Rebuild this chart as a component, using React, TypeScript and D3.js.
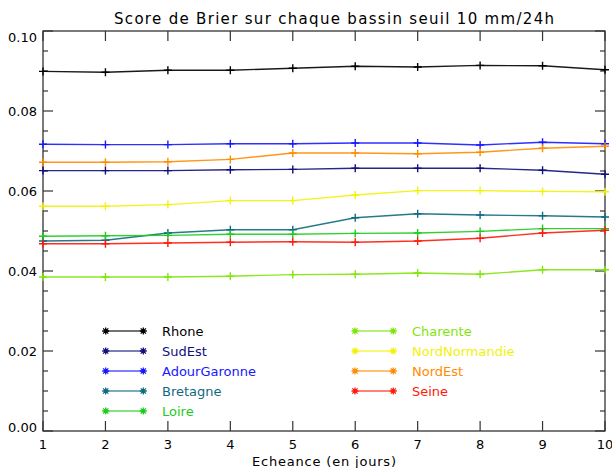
import React, { useEffect, useRef } from 'react';
import * as d3 from 'd3';

const days = [1, 2, 3, 4, 5, 6, 7, 8, 9, 10];

const basins = ['Rhone', 'SudEst', 'AdourGaronne', 'Bretagne', 'Loire', 'Charente', 'NordNormandie', 'NordEst', 'Seine'];
const colors = ['#000000', '#10107a', '#1818ff', '#0f6a80', '#1ccc1c', '#7fe60a', '#f2f20a', '#ff8c00', '#ff1a0a'];

const rhone = [0.0899, 0.0897, 0.0902, 0.0902, 0.0907, 0.0912, 0.0910, 0.0914, 0.0913, 0.0903];
const sudEst = [0.0651, 0.0651, 0.0651, 0.0653, 0.0654, 0.0657, 0.0657, 0.0657, 0.0652, 0.0642];
const adourGaronne = [0.0717, 0.0716, 0.0716, 0.0718, 0.0718, 0.0720, 0.0720, 0.0715, 0.0722, 0.0718];
const bretagne = [0.0475, 0.0477, 0.0495, 0.0503, 0.0503, 0.0533, 0.0543, 0.0540, 0.0538, 0.0535];
const loire = [0.0487, 0.0488, 0.0489, 0.0492, 0.0492, 0.0494, 0.0495, 0.0499, 0.0506, 0.0506];
const charente = [0.0385, 0.0385, 0.0385, 0.0387, 0.0391, 0.0392, 0.0395, 0.0392, 0.0403, 0.0403];
const nordNormandie = [0.0562, 0.0562, 0.0566, 0.0576, 0.0576, 0.0590, 0.0601, 0.0601, 0.0599, 0.0598];
const nordEst = [0.0672, 0.0672, 0.0673, 0.0679, 0.0695, 0.0695, 0.0693, 0.0697, 0.0707, 0.0712];
const seine = [0.0468, 0.0468, 0.0470, 0.0472, 0.0473, 0.0472, 0.0475, 0.0482, 0.0495, 0.0502];

const seriesValues = [rhone, sudEst, adourGaronne, bretagne, loire, charente, nordNormandie, nordEst, seine];

const yTicks = [0, 0.02, 0.04, 0.06, 0.08, 0.1];

const W = 612;
const H = 468;
const FONT = 'DejaVu Sans';

export default function App() {
  const svgRef = useRef<SVGSVGElement>(null);

  useEffect(() => {
    if (!svgRef.current) return;
    const svg = d3.select(svgRef.current);
    svg.selectAll('*').remove();

    const left = 43, right = 605, top = 31, bottom = 431;
    const x = d3.scaleLinear().domain([1, 10]).range([left, right]);
    const y = d3.scaleLinear().domain([0, 0.1]).range([bottom, top]);

    // title
    svg.append('text')
      .attr('x', 334).attr('y', 24)
      .attr('text-anchor', 'middle')
      .attr('font-family', FONT).attr('font-size', 15)
      .attr('textLength', 440).attr('lengthAdjust', 'spacing')
      .text('Score de Brier sur chaque bassin seuil 10 mm/24h');

    // frame
    svg.append('rect')
      .attr('x', left).attr('y', top)
      .attr('width', right - left).attr('height', bottom - top)
      .attr('fill', 'none').attr('stroke', '#222').attr('stroke-width', 1.2);

    const ax = svg.append('g').attr('stroke', '#333').attr('stroke-width', 1.2);

    // y ticks on both sides, minor every 0.005
    const minor = d3.range(0, 0.1001, 0.005);
    minor.forEach(v => {
      const isMajor = Math.abs(v / 0.02 - Math.round(v / 0.02)) < 1e-6;
      const len = isMajor ? 10 : 5;
      ax.append('line').attr('x1', left).attr('x2', left + len).attr('y1', y(v)).attr('y2', y(v));
      ax.append('line').attr('x1', right).attr('x2', right - len).attr('y1', y(v)).attr('y2', y(v));
    });

    // x ticks, top and bottom
    days.forEach(d => {
      ax.append('line').attr('x1', x(d)).attr('x2', x(d)).attr('y1', bottom).attr('y2', bottom - 10);
      ax.append('line').attr('x1', x(d)).attr('x2', x(d)).attr('y1', top).attr('y2', top + 10);
    });

    // end labels are pulled inside the axis range like IDL does
    svg.append('g').selectAll('text').data(yTicks).enter().append('text')
      .attr('x', left - 6)
      .attr('y', d => y(d) + 5 + (d === 0.1 ? 6 : d === 0 ? -4 : 0))
      .attr('text-anchor', 'end')
      .attr('font-family', FONT).attr('font-size', 13)
      .text(d => d3.format('.2f')(d));

    svg.append('g').selectAll('text').data(days).enter().append('text')
      .attr('x', d => x(d)).attr('y', 449)
      .attr('text-anchor', 'middle')
      .attr('font-family', FONT).attr('font-size', 13)
      .text(d => String(d));

    svg.append('text')
      .attr('x', 324).attr('y', 466)
      .attr('text-anchor', 'middle')
      .attr('font-family', FONT).attr('font-size', 13)
      .attr('textLength', 144).attr('lengthAdjust', 'spacing')
      .text('Echeance (en jours)');

    // series
    const line = d3.line<number>().x((_, i) => x(days[i])).y(v => y(v));
    seriesValues.forEach((vals, k) => {
      const g = svg.append('g');
      g.append('path')
        .attr('d', line(vals) || '')
        .attr('fill', 'none')
        .attr('stroke', colors[k])
        .attr('stroke-width', 1.4)
        .attr('stroke-opacity', 0.9);
      vals.forEach((v, i) => {
        const cx = x(days[i]), cy = y(v);
        g.append('path')
          .attr('d', `M${cx - 4},${cy}H${cx + 4}M${cx},${cy - 4}V${cy + 4}`)
          .attr('stroke', colors[k]).attr('stroke-width', 1.4);
      });
    });

    // legend
    const asterisk = (cx: number, cy: number) => {
      const r = 3.5, s = 2.6;
      return `M${cx - r},${cy}H${cx + r}M${cx},${cy - r}V${cy + r}` +
        `M${cx - s},${cy - s}L${cx + s},${cy + s}M${cx - s},${cy + s}L${cx + s},${cy - s}`;
    };
    basins.forEach((name, k) => {
      const col = k < 5 ? 0 : 1;
      const row = k < 5 ? k : k - 5;
      const x1 = col === 0 ? 105.7 : 355;
      const x2 = col === 0 ? 143.3 : 393.3;
      const tx = col === 0 ? 162 : 412;
      const ly = 331 + row * 20;
      const g = svg.append('g');
      g.append('line').attr('x1', x1).attr('x2', x2).attr('y1', ly).attr('y2', ly)
        .attr('stroke', colors[k]).attr('stroke-width', 2).attr('stroke-opacity', 0.55);
      g.append('path').attr('d', asterisk(x1, ly) + asterisk(x2, ly))
        .attr('stroke', colors[k]).attr('stroke-width', 1.3);
      g.append('text')
        .attr('x', tx).attr('y', ly + 5)
        .attr('font-family', FONT).attr('font-size', 13)
        .attr('fill', colors[k])
        .text(name);
    });
  }, []);

  return (
    <svg ref={svgRef} width={W} height={H}
      style={{ position: 'absolute', left: 0, top: 0, background: '#fff' }} />
  );
}
